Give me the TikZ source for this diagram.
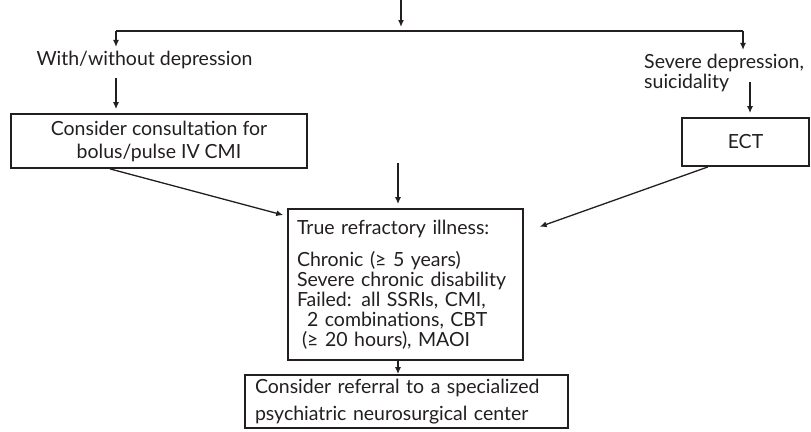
\documentclass[tikz,border=0pt]{standalone}
\usepackage{fontspec}
\setmainfont{Lato}
\usetikzlibrary{arrows.meta,positioning}
\definecolor{Ink}{HTML}{231F20}
\tikzset{
  >={Latex[length=7pt,width=6pt]},
  box/.style={draw=Ink,line width=1.8pt,align=center,font=\fontsize{19.5}{23}\selectfont,inner sep=0pt,text=Ink},
  lab/.style={font=\fontsize{19.5}{20}\selectfont,inner sep=0pt,text=Ink},
  flow/.style={->,line width=1.3pt,draw=Ink,shorten >=4pt},
  bar/.style={line width=1.8pt,draw=Ink}
}
\begin{document}
\begin{tikzpicture}[x=1pt,y=-1pt]
    \useasboundingbox (0,0) rectangle (811,431);
    \coordinate (in) at (401,0);
    \coordinate (fork) at (401,31);
    \coordinate (forkl) at (116,31);
    \coordinate (forkr) at (743,31);
    \coordinate (mid) at (398,163);
    \node[lab] (withwo) at (144.5,60) {With/without depression};
    \node[lab,align=left,anchor=west] (severe) at (644,73) {Severe depression,\\suicidality};
    \node[box,minimum width=296pt,minimum height=54pt] (consult) at (159,141) {Consider consultation for\\bolus/pulse IV CMI};
    \node[box,minimum width=127pt,minimum height=48pt] (ect) at (745.5,142) {ECT};
    \node[box,align=left,font=\fontsize{19.5}{20}\selectfont,text width=217pt,inner xsep=9pt,minimum height=151pt] (refr) at (405.5,284.5)
      {True refractory illness:\\[12pt]Chronic (≥ 5 years)\\Severe chronic disability\\Failed: all SSRIs, CMI,\\\hspace*{10pt}2 combinations, CBT\\\hspace*{5pt}(≥ 20 hours), MAOI};
    \node[box,align=left,font=\fontsize{19.5}{27}\selectfont,text width=303pt,inner xsep=10pt,minimum height=53pt] (referral) at (406.5,401.5)
      {Consider referral to a specialized\\psychiatric neurosurgical center};
    \draw[flow] (in) -- (fork);
    \draw[bar] (forkl) -- (forkr);
    \draw[flow] (forkl) -- (forkl |- withwo.north);
    \draw[flow] (forkr) -- (forkr |- severe.north);
    \draw[flow] ([yshift=-9pt]withwo.south -| forkl) -- (consult.north -| forkl);
    \draw[flow] ([yshift=10pt]severe.south -| 750,0) -- (ect.north -| 750,0);
    \draw[flow] (mid) -- (mid |- refr.north);
    \draw[flow] ([xshift=-49pt]consult.south) -- ([yshift=-8pt]refr.north west);
    \draw[flow] ([xshift=-37.5pt]ect.south) -- ([xshift=12pt,yshift=-20pt]refr.north east);
    \draw[flow,shorten >=0pt] (refr.south -| mid) -- (referral.north -| mid);
  \end{tikzpicture}
\end{document}
